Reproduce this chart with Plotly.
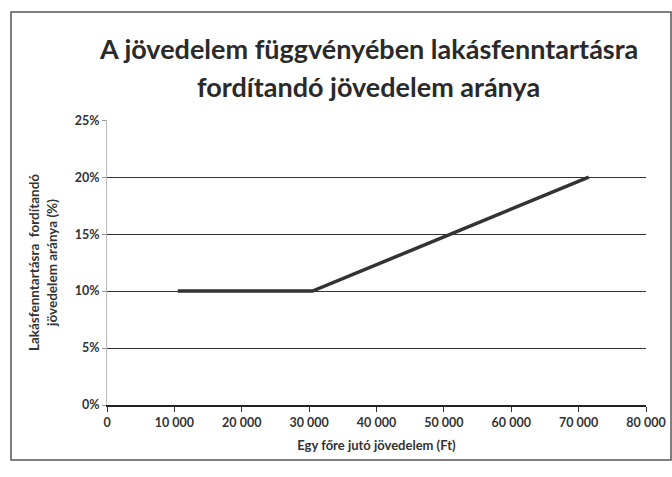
import plotly.graph_objects as go

# Data
income = [10500, 30500, 71500]
ratio = [10, 10, 20]

x_tickvals = [0, 10000, 20000, 30000, 40000, 50000, 60000, 70000, 80000]
x_ticktext = ["0", "10 000", "20 000", "30 000", "40 000", "50 000", "60 000", "70 000", "80 000"]
y_tickvals = [0, 5, 10, 15, 20, 25]
y_ticktext = ["0%", "5%", "10%", "15%", "20%", "25%"]

title_lines = ["A jövedelem függvényében lakásfenntartásra", "fordítandó jövedelem aránya"]
x_title = "Egy főre jutó jövedelem (Ft)"
y_title = "Lakásfenntartásra  fordítandó<br>jövedelem aránya (%)"

font_family = "Lato, 'Open Sans', sans-serif"

fig = go.Figure()
fig.add_trace(go.Scatter(
    x=income, y=ratio, mode="lines",
    line=dict(color="#333333", width=3.5),
    showlegend=False, hoverinfo="skip",
))

W, H = 672, 477
L, R, T, B = 107, 26, 120, 72
pw = W - L - R
ph = H - T - B

def px_to_xpaper(px):
    return (px - L) / pw

def py_to_ypaper(py):
    return 1 - (py - T) / ph

fig.update_layout(
    width=W, height=H,
    margin=dict(l=L, r=R, t=T, b=B, autoexpand=False),
    paper_bgcolor="white", plot_bgcolor="white",
    font=dict(family=font_family, color="#333333"),
    xaxis=dict(
        range=[0, 80000],
        tickvals=x_tickvals, ticktext=["<b>" + t + "</b>" for t in x_ticktext],
        tickfont=dict(size=12.5, color="#333333"),
        ticks="outside", ticklen=5, tickcolor="#333333",
        showgrid=False, zeroline=False, automargin=False,
        showline=True, linecolor="#222222", linewidth=1.5,
        title=dict(text="<b>" + x_title + "</b>", font=dict(size=13), standoff=12),
        fixedrange=True,
    ),
    yaxis=dict(
        range=[0, 25.02],
        tickvals=y_tickvals, ticktext=["<b>" + t + "</b>" for t in y_ticktext],
        tickfont=dict(size=12.5, color="#333333"),
        ticks="outside", ticklen=4, tickcolor="#999999",
        showgrid=True, gridcolor="#333333", gridwidth=1,
        zeroline=False, automargin=False,
        showline=True, linecolor="#bbbbbb", linewidth=1,
        title=dict(text="<b>" + y_title + "</b>", font=dict(size=13.5), standoff=14),
        fixedrange=True,
    ),
)

# Title as two centered lines
for line_text, cy in zip(title_lines, [48, 86]):
    fig.add_annotation(
        text="<b>" + line_text + "</b>",
        xref="paper", yref="paper",
        x=px_to_xpaper(368), y=py_to_ypaper(cy),
        xanchor="center", yanchor="middle",
        showarrow=False,
        font=dict(size=27, color="#2a2a2a", family=font_family),
    )

# Chart border frame
fig.add_shape(
    type="rect", xref="paper", yref="paper",
    x0=px_to_xpaper(11), x1=px_to_xpaper(671),
    y0=py_to_ypaper(460), y1=py_to_ypaper(12),
    line=dict(color="#555555", width=1.5), fillcolor="rgba(0,0,0,0)",
    layer="below",
)

fig.write_html(
    "out.html",
    config={"displayModeBar": False, "staticPlot": True},
    post_script="document.body.style.margin='0';document.body.style.padding='0';",
)
